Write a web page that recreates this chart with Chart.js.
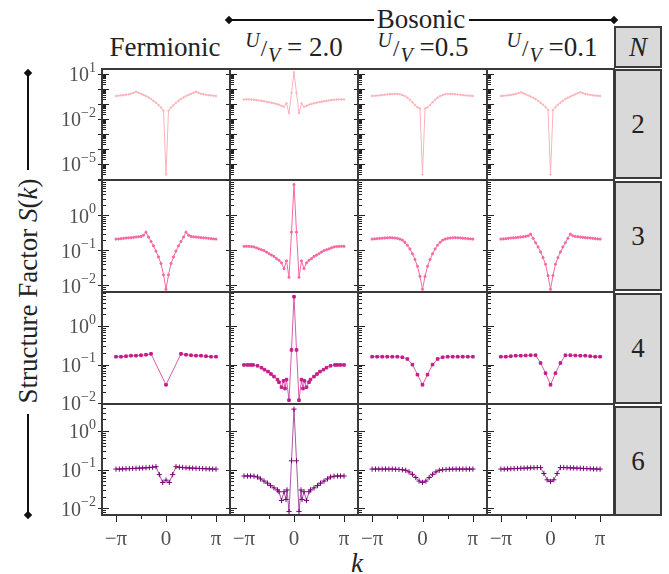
<!DOCTYPE html>
<html>
<head>
<meta charset="utf-8">
<script src="https://cdn.jsdelivr.net/npm/chart.js@4.4.0/dist/chart.umd.min.js"></script>
<style>
  body { margin: 0; background: #fff; width: 669px; height: 574px; position: relative; overflow: hidden; color: #222; }
  body, div, i, sup, sub, span { font-family: 'Liberation Serif', serif; }
  canvas { position: absolute; }
  .lbl { position: absolute; white-space: nowrap; transform: translate(-50%, -50%); font-size: 27px; line-height: 1; }
  .uv sup, .uv sub { font-style: italic; font-size: 20px; position: relative; vertical-align: 0; }
  .uv sup { top: -9px; }
  .uv sub { top: 6px; }
  .uv .sl { font-size: 23px; margin: 0 1px; }
  .nbox { position: absolute; left: 614px; width: 48px; background: #d9d9d9; border: 2px solid #3a3a3a;
          box-sizing: border-box; display: flex; align-items: center; justify-content: center; font-size: 27px; }
  .hl { position: absolute; height: 2px; background: #111; }
  .vl { position: absolute; width: 2px; background: #111; }
  .dm { position: absolute; width: 6px; height: 6px; background: #111; transform: translate(-50%, -50%) rotate(45deg); }
</style>
</head>
<body>

<!-- column headers -->
<div class="hl" style="left:229px;top:19px;width:145px"></div>
<div class="hl" style="left:469px;top:19px;width:145px"></div>
<div class="dm" style="left:229px;top:20px"></div>
<div class="dm" style="left:614px;top:20px"></div>
<div class="lbl" style="left:421px;top:19px">Bosonic</div>

<div class="lbl" style="left:165px;top:47px">Fermionic</div>
<div class="lbl uv" style="left:294px;top:47px"><sup>U</sup><span class="sl">/</span><sub>V</sub> = 2.0</div>
<div class="lbl uv" style="left:423px;top:47px"><sup>U</sup><span class="sl">/</span><sub>V</sub> =0.5</div>
<div class="lbl uv" style="left:552px;top:47px"><sup>U</sup><span class="sl">/</span><sub>V</sub> =0.1</div>

<!-- N column -->
<div class="nbox" style="top:26px;height:42px"><i>N</i></div>
<div class="nbox" style="top:69px;height:110px">2</div>
<div class="nbox" style="top:181px;height:110px">3</div>
<div class="nbox" style="top:293px;height:111px">4</div>
<div class="nbox" style="top:406px;height:110px">6</div>

<!-- y title with arrow -->
<div class="vl" style="left:27px;top:73px;height:97px"></div>
<div class="vl" style="left:27px;top:414px;height:101px"></div>
<div class="dm" style="left:28px;top:73px"></div>
<div class="dm" style="left:28px;top:515px"></div>
<div class="lbl" style="left:28px;top:291px;transform:translate(-50%,-50%) rotate(-90deg)">Structure Factor <i>S</i>(<i>k</i>)</div>

<div class="lbl" style="left:357px;top:563px"><i>k</i></div>

<script>
// k in units of pi, S(k) values
const kA = [-1, -0.95, -0.9, -0.85, -0.8, -0.75, -0.7, -0.65, -0.6, -0.55, -0.5, -0.45, -0.4, -0.35, -0.3, -0.25, -0.2, -0.15, -0.1, -0.05, 0,
            0.05, 0.1, 0.15, 0.2, 0.25, 0.3, 0.35, 0.4, 0.45, 0.5, 0.55, 0.6, 0.65, 0.7, 0.75, 0.8, 0.85, 0.9, 0.95, 1];

// N = 2
const sF2 = [0.34, 0.355, 0.37, 0.39, 0.41, 0.44, 0.48, 0.55, 0.66, 0.56, 0.47, 0.4, 0.33, 0.27, 0.22, 0.16, 0.12, 0.085, 0.058, 0.035, 2e-6,
             0.035, 0.058, 0.085, 0.12, 0.16, 0.22, 0.27, 0.33, 0.4, 0.47, 0.56, 0.66, 0.55, 0.48, 0.44, 0.41, 0.39, 0.37, 0.355, 0.34];
const sU20N2 = [0.2, 0.2, 0.2, 0.195, 0.19, 0.18, 0.17, 0.16, 0.15, 0.14, 0.13, 0.12, 0.11, 0.1, 0.09, 0.075, 0.065, 0.11, 0.024, 0.55, 13,
                0.55, 0.024, 0.11, 0.065, 0.075, 0.09, 0.1, 0.11, 0.12, 0.13, 0.14, 0.15, 0.16, 0.17, 0.18, 0.19, 0.195, 0.2, 0.2, 0.2];
const sU05N2 = [0.34, 0.35, 0.36, 0.37, 0.39, 0.41, 0.43, 0.45, 0.46, 0.47, 0.47, 0.44, 0.39, 0.33, 0.26, 0.19, 0.13, 0.085, 0.06, 0.05, 2e-6,
                0.05, 0.06, 0.085, 0.13, 0.19, 0.26, 0.33, 0.39, 0.44, 0.47, 0.47, 0.46, 0.45, 0.43, 0.41, 0.39, 0.37, 0.36, 0.35, 0.34];
const sU01N2 = [0.34, 0.35, 0.36, 0.38, 0.4, 0.43, 0.47, 0.53, 0.6, 0.52, 0.44, 0.37, 0.31, 0.26, 0.21, 0.16, 0.12, 0.088, 0.062, 0.04, 2e-6,
                0.04, 0.062, 0.088, 0.12, 0.16, 0.21, 0.26, 0.31, 0.37, 0.44, 0.52, 0.6, 0.53, 0.47, 0.43, 0.4, 0.38, 0.36, 0.35, 0.34];

// N = 3
const sF3 = [0.21, 0.212, 0.215, 0.22, 0.225, 0.228, 0.23, 0.235, 0.24, 0.245, 0.25, 0.27, 0.33, 0.24, 0.18, 0.135, 0.095, 0.065, 0.042, 0.02, 0.0077,
             0.02, 0.042, 0.065, 0.095, 0.135, 0.18, 0.24, 0.33, 0.27, 0.25, 0.245, 0.24, 0.235, 0.23, 0.228, 0.225, 0.22, 0.215, 0.212, 0.21];
const sU20N3 = [0.13, 0.13, 0.13, 0.128, 0.125, 0.118, 0.11, 0.104, 0.098, 0.089, 0.08, 0.073, 0.067, 0.058, 0.052, 0.044, 0.03, 0.05, 0.017, 0.33, 7.6,
                0.33, 0.017, 0.05, 0.03, 0.044, 0.052, 0.058, 0.067, 0.073, 0.08, 0.089, 0.098, 0.104, 0.11, 0.118, 0.125, 0.128, 0.13, 0.13, 0.13];
const sU05N3 = [0.21, 0.212, 0.215, 0.22, 0.222, 0.225, 0.228, 0.23, 0.228, 0.225, 0.22, 0.21, 0.195, 0.17, 0.14, 0.11, 0.08, 0.055, 0.035, 0.018, 0.0077,
                0.018, 0.035, 0.055, 0.08, 0.11, 0.14, 0.17, 0.195, 0.21, 0.22, 0.225, 0.228, 0.23, 0.228, 0.225, 0.222, 0.22, 0.215, 0.212, 0.21];
const sU01N3 = [0.21, 0.212, 0.215, 0.22, 0.225, 0.228, 0.23, 0.235, 0.24, 0.245, 0.25, 0.26, 0.29, 0.22, 0.165, 0.125, 0.09, 0.062, 0.04, 0.019, 0.0077,
                0.019, 0.04, 0.062, 0.09, 0.125, 0.165, 0.22, 0.29, 0.26, 0.25, 0.245, 0.24, 0.235, 0.23, 0.228, 0.225, 0.22, 0.215, 0.212, 0.21];

// N = 4
const kF4 = [-1, -0.9, -0.8, -0.7, -0.6, -0.5, -0.4, -0.3, 0, 0.3, 0.4, 0.5, 0.6, 0.7, 0.8, 0.9, 1];
const sF4 = [0.16, 0.16, 0.165, 0.17, 0.17, 0.175, 0.18, 0.19, 0.03, 0.19, 0.18, 0.175, 0.17, 0.17, 0.165, 0.16, 0.16];
const kU20N4 = [-1, -0.93, -0.87, -0.82, -0.73, -0.65, -0.59, -0.52, -0.46, -0.4, -0.33, -0.3, -0.25, -0.21, -0.18, -0.15, -0.1, -0.05, 0,
                0.05, 0.1, 0.15, 0.18, 0.21, 0.25, 0.3, 0.33, 0.4, 0.46, 0.52, 0.59, 0.65, 0.73, 0.82, 0.87, 0.93, 1];
const sU20N4 = [0.098, 0.098, 0.098, 0.098, 0.093, 0.083, 0.074, 0.066, 0.057, 0.049, 0.041, 0.035, 0.026, 0.038, 0.024, 0.041, 0.012, 0.24, 5.7,
                0.24, 0.012, 0.041, 0.024, 0.038, 0.026, 0.035, 0.041, 0.049, 0.057, 0.066, 0.074, 0.083, 0.093, 0.098, 0.098, 0.098, 0.098];
const kN4 = [-1, -0.9, -0.8, -0.7, -0.6, -0.5, -0.4, -0.3, -0.2, -0.1, 0, 0.1, 0.2, 0.3, 0.4, 0.5, 0.6, 0.7, 0.8, 0.9, 1];
const sU05N4 = [0.16, 0.16, 0.16, 0.16, 0.16, 0.16, 0.155, 0.14, 0.1, 0.055, 0.03, 0.055, 0.1, 0.14, 0.155, 0.16, 0.16, 0.16, 0.16, 0.16, 0.16];
const sU01N4 = [0.16, 0.16, 0.165, 0.17, 0.17, 0.172, 0.175, 0.175, 0.11, 0.06, 0.03, 0.06, 0.11, 0.175, 0.175, 0.172, 0.17, 0.17, 0.165, 0.16, 0.16];

// N = 6
const kN6 = [-1, -0.933, -0.867, -0.8, -0.733, -0.667, -0.6, -0.533, -0.467, -0.4, -0.333, -0.267, -0.2, -0.133, -0.067, 0,
             0.067, 0.133, 0.2, 0.267, 0.333, 0.4, 0.467, 0.533, 0.6, 0.667, 0.733, 0.8, 0.867, 0.933, 1];
const sF6 = [0.104, 0.104, 0.105, 0.106, 0.107, 0.108, 0.109, 0.11, 0.111, 0.112, 0.114, 0.116, 0.12, 0.075, 0.047, 0.054,
             0.047, 0.075, 0.12, 0.116, 0.114, 0.112, 0.111, 0.11, 0.109, 0.108, 0.107, 0.106, 0.105, 0.104, 0.104];
const kU20N6 = [-1, -0.93, -0.87, -0.8, -0.73, -0.67, -0.6, -0.53, -0.47, -0.4, -0.33, -0.3, -0.25, -0.2, -0.16, -0.14, -0.1, -0.05, 0,
                0.05, 0.1, 0.14, 0.16, 0.2, 0.25, 0.3, 0.33, 0.4, 0.47, 0.53, 0.6, 0.67, 0.73, 0.8, 0.87, 0.93, 1];
const sU20N6 = [0.069, 0.069, 0.069, 0.068, 0.065, 0.058, 0.051, 0.045, 0.039, 0.034, 0.03, 0.027, 0.016, 0.027, 0.017, 0.03, 0.0083, 0.17, 3.7,
                0.17, 0.0083, 0.03, 0.017, 0.027, 0.016, 0.027, 0.03, 0.034, 0.039, 0.045, 0.051, 0.058, 0.065, 0.068, 0.069, 0.069, 0.069];
const sU05N6 = [0.104, 0.104, 0.104, 0.104, 0.104, 0.104, 0.104, 0.103, 0.102, 0.1, 0.097, 0.088, 0.076, 0.063, 0.051, 0.047,
                0.051, 0.063, 0.076, 0.088, 0.097, 0.1, 0.102, 0.103, 0.104, 0.104, 0.104, 0.104, 0.104, 0.104, 0.104];
const sU01N6 = [0.104, 0.104, 0.105, 0.106, 0.107, 0.108, 0.109, 0.11, 0.111, 0.112, 0.113, 0.114, 0.114, 0.08, 0.055, 0.05,
                0.055, 0.08, 0.114, 0.114, 0.113, 0.112, 0.111, 0.11, 0.109, 0.108, 0.107, 0.106, 0.105, 0.104, 0.104];

// tick labels
const xTickVals = [-1, 0, 1];
const xTickText = ["\u2212\u03c0", "0", "\u03c0"];
const yLabelExp = [[1, -2, -5], [0, -1, -2], [0, -1, -2], [0, -1, -2]];

// layout
const colEdges = [102, 230, 358, 487, 614];
const rowEdges = [69, 180, 292, 404, 515];
const yRange = [[-6.07, 1.33], [-2.19, 1.01], [-2.02, 0.88], [-2.17, 0.70]];
const rowColors = ["#fbb4b9", "#f768a1", "#c51b8a", "#7a0177"];
const lineColors = ["#fbb4b9", "#f768a1", "rgba(197,27,138,0.7)", "rgba(122,1,119,0.65)"];
const pStyle = ["circle", "circle", "rect", "cross"];
const pRadius = [0.8, 1.1, 1.8, 2.6];

const panels = [
  [[kA, sF2], [kA, sU20N2], [kA, sU05N2], [kA, sU01N2]],
  [[kA, sF3], [kA, sU20N3], [kA, sU05N3], [kA, sU01N3]],
  [[kF4, sF4], [kU20N4, sU20N4], [kN4, sU05N4], [kN4, sU01N4]],
  [[kN6, sF6], [kU20N6, sU20N6], [kN6, sU05N6], [kN6, sU01N6]]
];

const PADL = 50, PADR = 12, PADT = 12, PADB = 42;
const SERIF = "'Liberation Serif'";
Chart.defaults.font.family = SERIF;

// frame, tick marks and tick labels, placed through the chart's scales
const framePlugin = {
  id: "frame",
  afterDatasetsDraw(chart) {
    const { ctx, chartArea: a, scales: { x, y } } = chart;
    const o = chart.options.plugins.frame;
    ctx.save();
    ctx.strokeStyle = "#222";
    ctx.lineWidth = 1;
    const lo = Math.floor(Math.log10(y.min)), hi = Math.ceil(Math.log10(y.max));
    for (let d = lo; d <= hi; d++) {
      for (let j = 1; j < 10; j++) {
        const v = j * Math.pow(10, d);
        if (v < y.min || v > y.max) continue;
        const py = Math.round(y.getPixelForValue(v)) + 0.5;
        ctx.beginPath();
        if (j === 1) { ctx.moveTo(a.left - 4, py); ctx.lineTo(a.left + 7, py); }
        else { ctx.moveTo(a.left, py); ctx.lineTo(a.left + 4, py); }
        ctx.stroke();
      }
    }
    if (o.yLabels) {
      ctx.fillStyle = "#505050";
      ctx.textBaseline = "middle";
      ctx.textAlign = "right";
      o.yLabels.forEach(e => {
        const py = y.getPixelForValue(Math.pow(10, e));
        ctx.font = "14px " + SERIF;
        const sup = e < 0 ? "\u2212" + (-e) : String(e);
        const w = ctx.measureText(sup).width;
        ctx.fillText(sup, a.left - 6, py - 6);
        ctx.font = "20px " + SERIF;
        ctx.fillText("10", a.left - 6 - w, py + 2);
      });
    }
    if (o.xTicks) {
      xTickVals.forEach(v => {
        const px = Math.round(x.getPixelForValue(v)) + 0.5;
        ctx.beginPath(); ctx.moveTo(px, a.bottom); ctx.lineTo(px, a.bottom + 7); ctx.stroke();
      });
      [-0.5, 0.5].forEach(v => {
        const px = Math.round(x.getPixelForValue(v)) + 0.5;
        ctx.beginPath(); ctx.moveTo(px, a.bottom); ctx.lineTo(px, a.bottom + 4); ctx.stroke();
      });
      ctx.fillStyle = "#505050";
      ctx.font = "21px " + SERIF;
      ctx.textAlign = "center";
      ctx.textBaseline = "middle";
      xTickVals.forEach((v, i) => ctx.fillText(xTickText[i], x.getPixelForValue(v), a.bottom + 24));
    }
    ctx.strokeStyle = "#3a3a3a";
    ctx.lineWidth = 2;
    ctx.strokeRect(a.left, a.top, a.right - a.left, a.bottom - a.top);
    ctx.restore();
  }
};

function drawAll() {
  for (let r = 0; r < 4; r++) {
    for (let c = 0; c < 4; c++) {
      const w = colEdges[c + 1] - colEdges[c];
      const h = rowEdges[r + 1] - rowEdges[r];
      const cv = document.createElement("canvas");
      cv.width = PADL + w + PADR;
      cv.height = PADT + h + PADB;
      cv.style.left = (colEdges[c] - PADL) + "px";
      cv.style.top = (rowEdges[r] - PADT) + "px";
      document.body.appendChild(cv);

      const [ks, ss] = panels[r][c];
      new Chart(cv.getContext("2d"), {
        type: "line",
        data: {
          datasets: [{
            data: ks.map((k, i) => ({ x: k, y: ss[i] })),
            borderColor: lineColors[r],
            borderWidth: 1,
            pointStyle: pStyle[r],
            pointRadius: pRadius[r],
            pointBackgroundColor: rowColors[r],
            pointBorderColor: rowColors[r],
            pointBorderWidth: 1,
            tension: 0
          }]
        },
        options: {
          responsive: false,
          animation: false,
          devicePixelRatio: 1,
          layout: { padding: { left: 0, right: PADR, top: PADT, bottom: 0 } },
          plugins: {
            legend: { display: false },
            tooltip: { enabled: false },
            frame: { yLabels: c === 0 ? yLabelExp[r] : null, xTicks: r === 3 }
          },
          scales: {
            x: {
              type: "linear", min: -1.28, max: 1.28,
              ticks: { display: false }, grid: { display: false, drawTicks: false }, border: { display: false },
              afterFit: s => { s.height = PADB; }
            },
            y: {
              type: "logarithmic", min: Math.pow(10, yRange[r][0]), max: Math.pow(10, yRange[r][1]),
              ticks: { display: false }, grid: { display: false, drawTicks: false }, border: { display: false },
              afterFit: s => { s.width = PADL; }
            }
          }
        },
        plugins: [framePlugin]
      });
    }
  }
}

drawAll();
</script>
</body>
</html>
